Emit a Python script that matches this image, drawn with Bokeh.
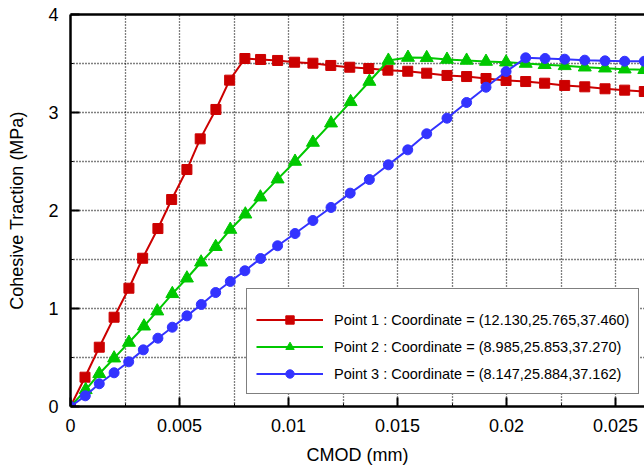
from bokeh.plotting import figure
from bokeh.models import (Range1d, FixedTicker, LinearAxis, Legend, LegendItem)
from bokeh.embed import file_html
from bokeh.resources import INLINE

# ---- data ----
red_x = [0, 0.000665, 0.00132, 0.00200, 0.00268, 0.00331, 0.00401, 0.00464, 0.00534, 0.00595,
         0.00667, 0.00730, 0.00800, 0.00872, 0.00950, 0.01028, 0.01112, 0.01194, 0.01281, 0.01368,
         0.01456, 0.01547, 0.01634, 0.01727, 0.01817, 0.01906, 0.01998, 0.02088, 0.02175, 0.02267,
         0.02359, 0.02452, 0.02542, 0.02632]
red_y = [0, 0.299, 0.605, 0.911, 1.207, 1.513, 1.816, 2.112, 2.418, 2.731,
         3.031, 3.330, 3.551, 3.541, 3.531, 3.513, 3.503, 3.480, 3.462, 3.449,
         3.432, 3.421, 3.401, 3.378, 3.367, 3.347, 3.327, 3.316, 3.299, 3.276,
         3.262, 3.242, 3.228, 3.214]

green_x = [0, 0.000697, 0.00132, 0.00200, 0.00268, 0.00337, 0.00398, 0.00467, 0.00534, 0.00599,
           0.00666, 0.00733, 0.00802, 0.00871, 0.00950, 0.01030, 0.01112, 0.01195, 0.01285, 0.01371,
           0.01458, 0.01548, 0.01634, 0.01727, 0.01817, 0.01906, 0.01998, 0.02088, 0.02175, 0.02267,
           0.02359, 0.02452, 0.02542, 0.02632]
green_y = [0, 0.170, 0.334, 0.493, 0.653, 0.819, 0.973, 1.150, 1.309, 1.472,
           1.630, 1.806, 1.962, 2.136, 2.320, 2.500, 2.694, 2.891, 3.109, 3.316,
           3.531, 3.561, 3.558, 3.541, 3.531, 3.520, 3.513, 3.500, 3.487, 3.476,
           3.462, 3.452, 3.442, 3.436]

blue_x = [0, 0.000679, 0.00132, 0.00200, 0.00267, 0.00334, 0.00401, 0.00467, 0.00534, 0.00600,
          0.00666, 0.00733, 0.00800, 0.00872, 0.00950, 0.01030, 0.01112, 0.01195, 0.01283, 0.01371,
          0.01458, 0.01547, 0.01634, 0.01727, 0.01817, 0.01906, 0.01998, 0.02088, 0.02177, 0.02267,
          0.02359, 0.02452, 0.02542, 0.02632]
blue_y = [0, 0.109, 0.232, 0.344, 0.456, 0.578, 0.697, 0.809, 0.925, 1.041,
          1.163, 1.276, 1.385, 1.510, 1.640, 1.765, 1.898, 2.031, 2.177, 2.316,
          2.466, 2.619, 2.783, 2.942, 3.102, 3.258, 3.418, 3.558, 3.551, 3.544,
          3.534, 3.527, 3.523, 3.523]

labels = ["Point 1 : Coordinate = (12.130,25.765,37.460)",
          "Point 2 : Coordinate = (8.985,25.853,37.270)",
          "Point 3 : Coordinate = (8.147,25.884,37.162)"]

x_ticks = [0, 0.005, 0.01, 0.015, 0.02, 0.025]
x_tick_labels = ["0", "0.005", "0.01", "0.015", "0.02", "0.025"]
x_minor = [0.0025, 0.0075, 0.0125, 0.0175, 0.0225]
y_ticks = [0, 1, 2, 3, 4]
y_minor = [0.5, 1.5, 2.5, 3.5]

FONT = "Liberation Sans"
RED, GREEN, BLUE = "#cc0000", "#00c800", "#3333ff"

p = figure(width=644, height=469, output_backend="svg", toolbar_location=None,
           x_range=Range1d(0, 0.02633), y_range=Range1d(0, 4),
           min_border_left=70, min_border_right=0, min_border_top=14, min_border_bottom=63,
           x_axis_label="CMOD (mm)", y_axis_label="Cohesive Traction (MPa)")
p.outline_line_color = None
p.background_fill_color = "white"
p.border_fill_color = "white"

for ax, ticks, minor in ((p.xaxis[0], x_ticks, x_minor), (p.yaxis[0], y_ticks, y_minor)):
    ax.ticker = FixedTicker(ticks=ticks, minor_ticks=minor)
    ax.axis_line_width = 2.5
    ax.axis_line_color = "black"
    ax.major_tick_in = 9
    ax.major_tick_out = 0
    ax.major_tick_line_width = 2
    ax.minor_tick_in = 3
    ax.minor_tick_out = 0
    ax.minor_tick_line_width = 1
    ax.major_label_text_font = FONT
    ax.major_label_text_font_size = "18px"
    ax.major_label_text_color = "black"
    ax.axis_label_text_font = FONT
    ax.axis_label_text_font_size = "18px"
    ax.axis_label_text_font_style = "normal"
    ax.axis_label_text_color = "black"

p.xaxis[0].major_label_overrides = {t: s for t, s in zip(x_ticks, x_tick_labels)}
p.xaxis[0].major_label_standoff = 12
p.xaxis[0].axis_label_standoff = 10
p.yaxis[0].major_label_standoff = 12
p.yaxis[0].axis_label_standoff = 18

top = LinearAxis(ticker=FixedTicker(ticks=[]), axis_line_width=2.5, axis_line_color="black",
                 major_tick_line_color=None, minor_tick_line_color=None,
                 major_label_text_font_size="0px", major_label_standoff=0)
p.add_layout(top, "above")

for g in (p.xgrid[0], p.ygrid[0]):
    g.grid_line_color = "black"
    g.grid_line_dash = "1 2"
    g.grid_line_width = 1.3
    g.minor_grid_line_color = "black"
    g.minor_grid_line_dash = "1 2"
    g.minor_grid_line_width = 1.3

items = []
for xs, ys, col, marker, size, lab in ((red_x, red_y, RED, "square", 10, labels[0]),
                                       (green_x, green_y, GREEN, "triangle", 13, labels[1]),
                                       (blue_x, blue_y, BLUE, "circle", 10, labels[2])):
    lr = p.line(xs, ys, line_color=col, line_width=2)
    sr = p.scatter(xs, ys, marker=marker, size=size, fill_color=col, line_color=col)
    items.append(LegendItem(label=lab, renderers=[lr, sr]))

legend = Legend(items=items, location=(176, 12), title=" ",
                title_text_font_size="10px", title_standoff=0,
                label_text_font=FONT, label_text_font_size="14.5px", label_text_color="black",
                glyph_width=67, glyph_height=21, label_height=21, label_standoff=11,
                spacing=6, padding=9, margin=0,
                border_line_color="black", border_line_width=1,
                background_fill_color="white", background_fill_alpha=1)
p.add_layout(legend, "center")

open("out.html", "w").write(file_html(p, INLINE))
